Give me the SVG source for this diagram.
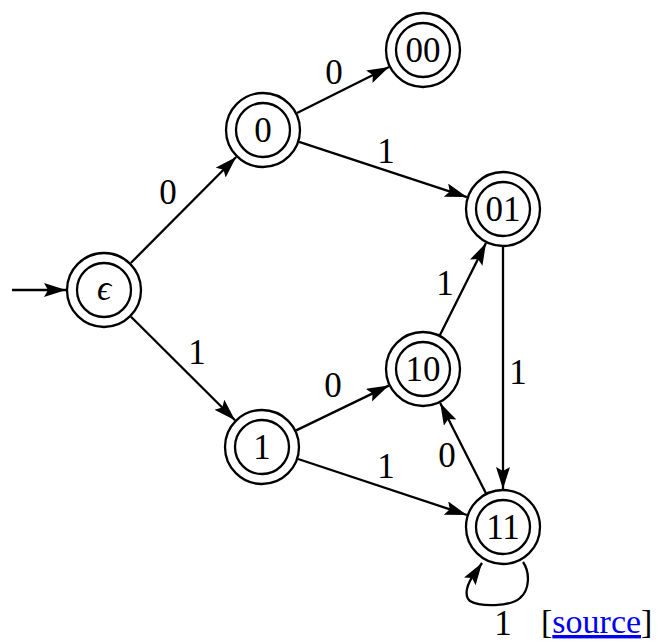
<svg xmlns="http://www.w3.org/2000/svg" width="664" height="643" viewBox="0 0 664 643">
<style>
.n circle{fill:none;stroke:#000;stroke-width:2.3}
.t{font-family:"Liberation Serif","DejaVu Serif",serif;font-size:35px;fill:#000;text-anchor:middle}
.e line,.e path{stroke:#000;stroke-width:2.3;fill:none;marker-end:url(#ah)}
</style>
<defs>
<marker id="ah" markerUnits="userSpaceOnUse" markerWidth="24" markerHeight="16" refX="22" refY="7" orient="auto">
<path d="M0,0 L22,7 L0,14 L4,7 z" fill="#000"/>
</marker>
</defs>
<rect width="664" height="643" fill="#fff"/>
<g id="edges" class="e">
<line x1="12" y1="290" x2="66" y2="290"/>
<line x1="130.8" y1="263" x2="236.2" y2="157"/>
<line x1="297" y1="113" x2="389" y2="67"/>
<line x1="299.1" y1="141.9" x2="466.9" y2="197.1"/>
<line x1="131" y1="316.8" x2="235" y2="420.2"/>
<line x1="296.2" y1="430.4" x2="388.8" y2="385.6"/>
<line x1="298.1" y1="459" x2="466.9" y2="515"/>
<line x1="440" y1="335" x2="486" y2="243"/>
<line x1="503" y1="247" x2="503" y2="489"/>
<line x1="485.8" y1="493.1" x2="440.2" y2="402.9"/>
<path d="M523,562 C530,572 530,590 520,598 C510,607 480,607 470,601 C464,596 466,584 476,572 L482,563"/>
</g>
<g id="labels">
<text class="t" x="168" y="204">0</text>
<text class="t" x="334" y="84">0</text>
<text class="t" x="386" y="163">1</text>
<text class="t" x="197" y="364">1</text>
<text class="t" x="445" y="295">1</text>
<text class="t" x="518" y="384">1</text>
<text class="t" x="333" y="397">0</text>
<text class="t" x="386" y="478">1</text>
<text class="t" x="447" y="467">0</text>
<text class="t" x="503" y="635">1</text>
</g>
<g id="node-eps" class="n"><circle cx="104" cy="290" r="37"/><circle cx="104" cy="290" r="27"/><text class="t" x="104" y="300" font-style="italic">ϵ</text></g>
<g id="node-0" class="n"><circle cx="263" cy="130" r="37"/><circle cx="263" cy="130" r="27"/><text class="t" x="263" y="142">0</text></g>
<g id="node-00" class="n"><circle cx="423" cy="50" r="37"/><circle cx="423" cy="50" r="27"/><text class="t" x="423" y="62">00</text></g>
<g id="node-01" class="n"><circle cx="503" cy="209" r="37"/><circle cx="503" cy="209" r="27"/><text class="t" x="503" y="221">01</text></g>
<g id="node-10" class="n"><circle cx="423" cy="369" r="37"/><circle cx="423" cy="369" r="27"/><text class="t" x="423" y="381">10</text></g>
<g id="node-1" class="n"><circle cx="262" cy="447" r="37"/><circle cx="262" cy="447" r="27"/><text class="t" x="262" y="459">1</text></g>
<g id="node-11" class="n"><circle cx="503" cy="527" r="37"/><circle cx="503" cy="527" r="27"/><text class="t" x="503" y="539">11</text></g>
<g id="source"><text x="541" y="633" font-family="Liberation Serif, serif" font-size="34" fill="#000">[<tspan fill="#0000EE" text-decoration="underline">source</tspan>]</text></g>
</svg>
